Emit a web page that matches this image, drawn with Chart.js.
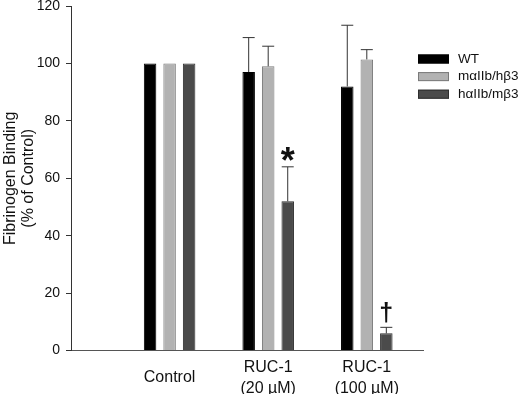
<!DOCTYPE html>
<html>
<head>
    <title>Fibrinogen binding</title>
    <script src="https://cdn.jsdelivr.net/npm/chart.js@4.4.0/dist/chart.umd.min.js"></script>
    <style>
        body { margin: 0; background: #fff; }
    </style>
</head>
<body>
<canvas id="stage" width="520" height="394"></canvas>
<script>
    // groups on the x axis
    var categories = ['Control', ['RUC-1', '(20 µM)'], ['RUC-1', '(100 µM)']];
    var categoryPos = [1, 2, 3];

    // % of control, with upper error bars
    var wt = [100, 97, 92];
    var wtErr = [0, 12, 21.3];
    var mh = [100, 99, 101.4];
    var mhErr = [0, 7, 3.4];
    var hm = [100, 52, 6];
    var hmErr = [0, 12, 2.1];
    var hmMarks = ['', '*', '†'];

    var yMin = 0, yMax = 120, yStep = 20;

    var FONT = '"Liberation Sans", Arial, sans-serif';

    function points(vals) {
        var out = [];
        for (var i = 0; i < vals.length; i++) out.push({x: categoryPos[i], y: vals[i]});
        return out;
    }

    var errorBars = {
        id: 'errorBars',
        afterDatasetsDraw: function (chart) {
            var ctx = chart.ctx;
            var y = chart.scales.y;
            ctx.save();
            chart.data.datasets.forEach(function (ds, i) {
                var meta = chart.getDatasetMeta(i);
                meta.data.forEach(function (bar, j) {
                    var e = ds.err[j];
                    if (e > 0) {
                        var top = y.getPixelForValue(ds.data[j].y + e);
                        ctx.strokeStyle = '#333';
                        ctx.lineWidth = 1;
                        ctx.beginPath();
                        ctx.moveTo(bar.x, bar.y);
                        ctx.lineTo(bar.x, top);
                        ctx.moveTo(bar.x - 6, top);
                        ctx.lineTo(bar.x + 6, top);
                        ctx.stroke();
                    }
                    if (ds.marks && ds.marks[j]) {
                        var t = y.getPixelForValue(ds.data[j].y + e);
                        ctx.fillStyle = '#111';
                        ctx.textAlign = 'center';
                        ctx.textBaseline = 'alphabetic';
                        if (ds.marks[j] == '*') {
                            ctx.font = 'bold 36px ' + FONT;
                            ctx.fillText(ds.marks[j], bar.x, t + 6);
                        } else {
                            ctx.font = 'bold 25px ' + FONT;
                            ctx.fillText(ds.marks[j], bar.x, t - 6);
                        }
                    }
                });
            });
            ctx.restore();
        }
    };

    // legend drawn beside the plot, overlapping the axis end like the original
    var sideLegend = {
        id: 'sideLegend',
        afterDraw: function (chart) {
            var ctx = chart.ctx;
            ctx.save();
            chart.data.datasets.forEach(function (ds, i) {
                var cy = 59 + i * 17.6;
                ctx.fillStyle = ds.backgroundColor;
                ctx.fillRect(418, cy - 4.5, 31, 9);
                ctx.strokeStyle = ds.borderColor;
                ctx.lineWidth = 1;
                ctx.strokeRect(418.5, cy - 4, 30, 8);
                ctx.fillStyle = '#111';
                ctx.font = '13.5px ' + FONT;
                ctx.textAlign = 'left';
                ctx.textBaseline = 'middle';
                ctx.fillText(ds.label, 458, cy);
            });
            ctx.restore();
        }
    };

    var chart = new Chart(document.getElementById('stage'), {
        type: 'bar',
        data: {
            datasets: [
                {label: 'WT', data: points(wt), err: wtErr, backgroundColor: '#000', borderColor: '#000', borderWidth: 1},
                {label: 'mαIIb/hβ3', data: points(mh), err: mhErr, backgroundColor: '#b2b2b2', borderColor: '#7a7a7a', borderWidth: 1},
                {label: 'hαIIb/mβ3', data: points(hm), err: hmErr, marks: hmMarks, backgroundColor: '#4b4b4b', borderColor: '#2e2e2e', borderWidth: 1}
            ]
        },
        options: {
            responsive: false,
            animation: false,
            devicePixelRatio: 1,
            barPercentage: 0.64,
            categoryPercentage: 0.594,
            layout: {padding: {left: 0, top: 6, right: 97, bottom: 0}},
            plugins: {
                legend: {display: false},
                tooltip: {enabled: false}
            },
            scales: {
                x: {
                    type: 'linear',
                    min: 0,
                    max: 3.57,
                    offset: false,
                    grid: {display: false, offset: false},
                    border: {display: true, color: '#555', width: 1},
                    afterBuildTicks: function (s) {
                        s.ticks = categoryPos.map(function (v) { return {value: v}; });
                    },
                    afterFit: function (s) {
                        s.height = 43.4;
                        s.paddingLeft = 0;
                        s.paddingRight = 0;
                    },
                    ticks: {
                        padding: 9,
                        color: '#111',
                        maxRotation: 0,
                        autoSkip: false,
                        crossAlign: 'center',
                        font: {family: FONT, size: 16, lineHeight: 1.3},
                        callback: function (v) { return categories[categoryPos.indexOf(v)]; }
                    }
                },
                y: {
                    min: yMin,
                    max: yMax,
                    grid: {display: true, drawOnChartArea: false, tickLength: 5, color: '#333'},
                    border: {display: true, color: '#333', width: 1},
                    afterFit: function (s) {
                        s.width = 71;
                        s.paddingTop = 0;
                        s.paddingBottom = 0;
                    },
                    ticks: {
                        stepSize: yStep,
                        padding: 6,
                        color: '#111',
                        font: {family: FONT, size: 14, lineHeight: 1}
                    },
                    title: {
                        display: true,
                        text: ['Fibrinogen Binding', '(% of Control)'],
                        color: '#111',
                        padding: {top: 1.5, bottom: 0},
                        font: {family: FONT, size: 16, lineHeight: 1.12}
                    }
                }
            }
        },
        plugins: [errorBars, sideLegend]
    });
</script>
</body>
</html>
